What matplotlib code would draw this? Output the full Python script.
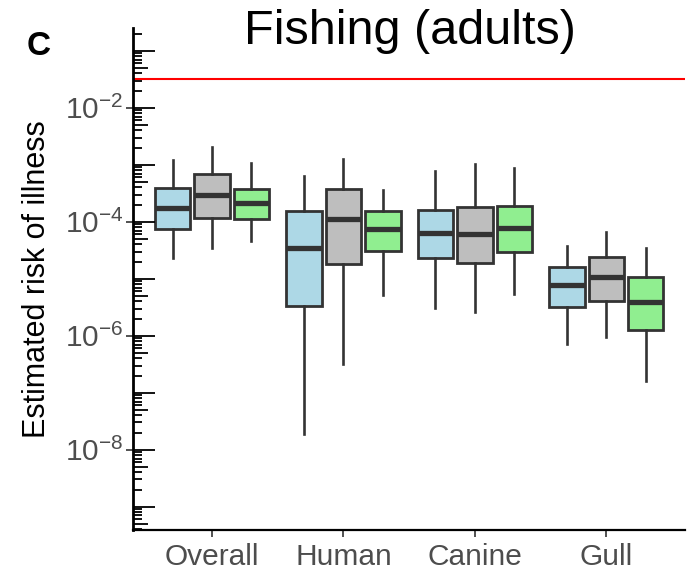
import matplotlib
matplotlib.use('Agg')
import matplotlib.pyplot as plt
import numpy as np
from matplotlib.ticker import NullLocator

plt.rcParams['font.family'] = ['Liberation Sans', 'DejaVu Sans']
plt.rcParams['mathtext.fontset'] = 'custom'
plt.rcParams['mathtext.rm'] = 'Liberation Sans'
plt.rcParams['mathtext.it'] = 'Liberation Sans:italic'
plt.rcParams['mathtext.bf'] = 'Liberation Sans:bold'

categories = ['Overall', 'Human', 'Canine', 'Gull']
colors = ['#ADD8E6', '#BEBEBE', '#90EE90']

# five-number summaries per category: (whislo, q1, med, q3, whishi)
blue = [
    (2.28e-5, 7.4e-5, 1.72e-4, 3.85e-4, 1.21e-3),
    (1.88e-8, 3.36e-6, 3.41e-5, 1.56e-4, 6.4e-4),
    (3.10e-6, 2.33e-5, 6.25e-5, 1.60e-4, 7.85e-4),
    (7.24e-7, 3.15e-6, 7.66e-6, 1.60e-5, 3.75e-5),
]
grey = [
    (3.5e-5, 1.17e-4, 2.94e-4, 6.8e-4, 2.07e-3),
    (3.15e-7, 1.81e-5, 1.11e-4, 3.70e-4, 1.24e-3),
    (2.57e-6, 1.91e-5, 6.0e-5, 1.79e-4, 1.02e-3),
    (9.48e-7, 4.11e-6, 1.07e-5, 2.43e-5, 6.52e-5),
]
green = [
    (4.58e-5, 1.10e-4, 2.10e-4, 3.69e-4, 1.06e-3),
    (5.25e-6, 3.06e-5, 7.35e-5, 1.54e-4, 3.55e-4),
    (5.32e-6, 2.94e-5, 7.66e-5, 1.91e-4, 8.87e-4),
    (1.60e-7, 1.24e-6, 3.94e-6, 1.07e-5, 3.41e-5),
]
benchmark = 0.032

ytick_vals = [1e-2, 1e-4, 1e-6, 1e-8]
ytick_labels = [r'$10^{-2}$', r'$10^{-4}$', r'$10^{-6}$', r'$10^{-8}$']

fig = plt.figure(figsize=(6.9, 5.78), dpi=100)
ax = fig.add_axes([0.193, 0.083, 0.800, 0.8685])
ax.set_yscale('log')

x = np.arange(1, len(categories) + 1)
for series, col, off in zip([blue, grey, green], colors, [-0.3, 0.0, 0.3]):
    stats = [dict(whislo=s[0], q1=s[1], med=s[2], q3=s[3], whishi=s[4], fliers=[])
             for s in series]
    ax.bxp(stats, positions=x + off, widths=0.27, patch_artist=True,
           showcaps=False, showfliers=False, manage_ticks=False,
           boxprops=dict(facecolor=col, edgecolor='#333333', linewidth=2.0),
           whiskerprops=dict(color='#333333', linewidth=1.9),
           medianprops=dict(color='#333333', linewidth=3.8, solid_capstyle='butt'))

ax.axhline(benchmark, color='red', lw=1.5, zorder=1)

ax.set_xlim(0.4, 4.6)
ax.set_ylim(10 ** -9.41, 10 ** -0.60)

# log ticks along the left edge
for k in range(-10, 1):
    for m in range(1, 10):
        v = m * 10.0 ** k
        if m == 1:
            ln = 0.040
        elif m == 5:
            ln = 0.027
        else:
            ln = 0.0165
        ax.plot([0, ln], [v, v], color='black', lw=1.3,
                transform=ax.get_yaxis_transform(), solid_capstyle='butt')

ax.set_yticks(ytick_vals)
ax.set_yticklabels(ytick_labels)
ax.yaxis.set_minor_locator(NullLocator())
ax.set_xticks(x)
ax.set_xticklabels(categories)

ax.tick_params(axis='both', direction='out', length=5, width=1.2,
               color='#333333', labelcolor='#4D4D4D', labelsize=21.5)
ax.tick_params(axis='x', pad=4)
ax.tick_params(axis='y', pad=2)

for side in ['top', 'right']:
    ax.spines[side].set_visible(False)
ax.spines['left'].set_linewidth(2.0)
ax.spines['bottom'].set_linewidth(1.6)

ax.set_ylabel('Estimated risk of illness', fontsize=22)
ax.yaxis.set_label_coords(-0.147, 0.5)

fig.text(0.594, 1 - 44 / 578, 'Fishing (adults)', fontsize=35,
         ha='center', va='baseline')
fig.text(0.039, 1 - 55 / 578, 'C', fontsize=24, fontweight='bold',
         va='baseline')

fig.savefig('out.png', dpi=100)
